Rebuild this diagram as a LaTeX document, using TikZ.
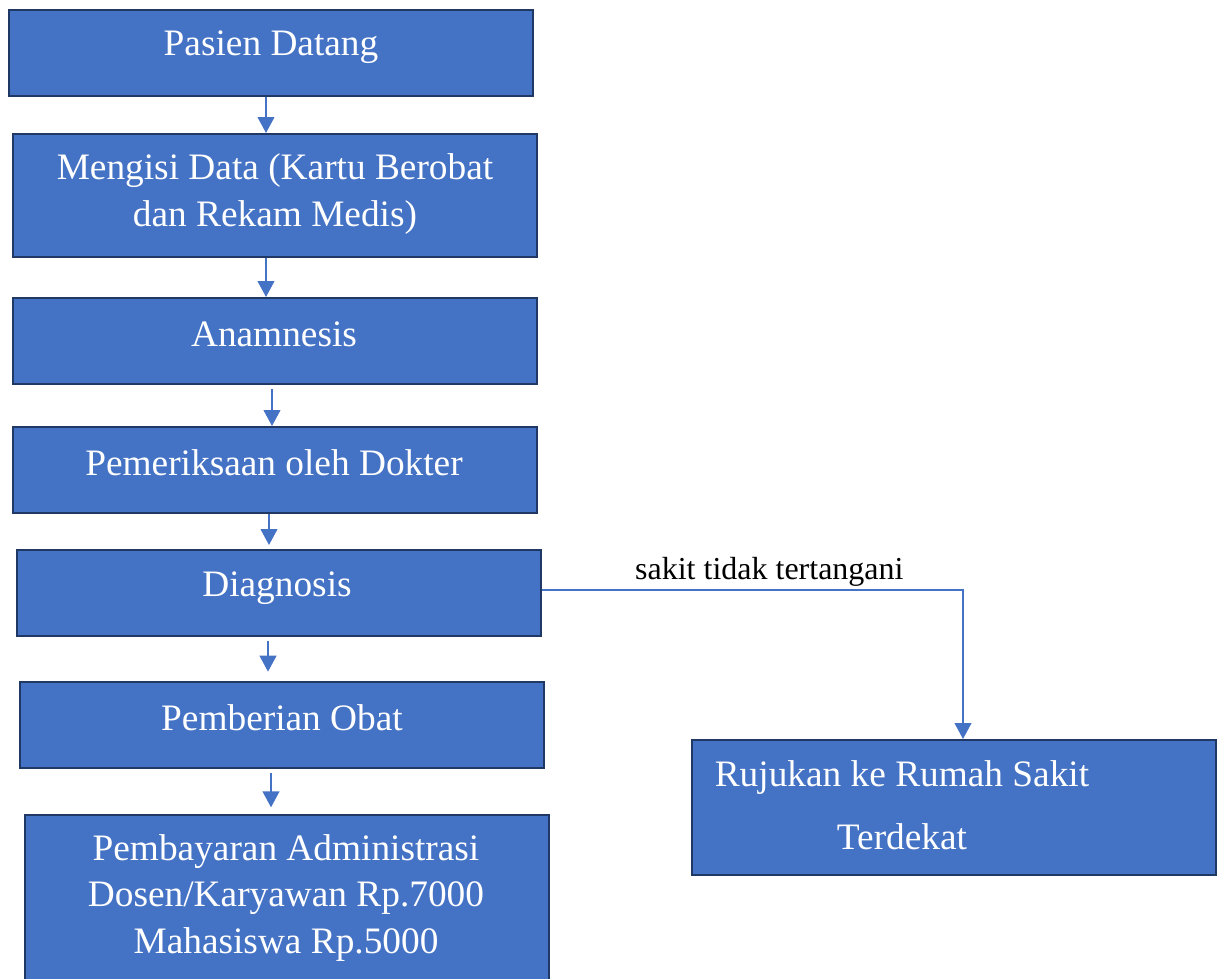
\documentclass[tikz,border=0pt]{standalone}
\usepackage{fontspec}
\setmainfont{Liberation Serif}
\usepackage{tikz}
\usetikzlibrary{arrows.meta, positioning, calc}
\definecolor{boxfill}{HTML}{4472C4}
\definecolor{boxedge}{HTML}{1F3864}
\tikzstyle{process} = [rectangle, minimum width=393pt, minimum height=64.5pt, draw=boxedge, line width=1.5pt, fill=boxfill, inner sep=0pt]
\tikzstyle{boxtext} = [text=white, align=center, font=\fontsize{28}{35}\selectfont, inner sep=0pt]
\tikzstyle{lbl} = [text=black, font=\fontsize{24}{29}\selectfont, inner sep=0pt]
\tikzstyle{arrow} = [draw=boxfill, line width=1.6pt, -{Triangle[width=12.5pt,length=12pt]}]

\begin{document}
\begin{tikzpicture}[x=0.75pt, y=-0.75pt]
                \useasboundingbox (0,0) rectangle (1223,978);
                % boxes
                \node (pasien) [process] at (271,53) {};
                \node (isidata) [process, minimum height=92.25pt] at (275,195.5) {};
                \node (anamnesis) [process] at (275,341) {};
                \node (periksa) [process] at (275,470) {};
                \node (diagnosis) [process] at (279,593) {};
                \node (obat) [process] at (282,725) {};
                \node (bayar) [process, minimum height=127.5pt] at (287,900) {};
                \node (rujukan) [process, minimum height=101.25pt] at (954,807.5) {};

                % texts
                \node (tpasien) [boxtext] at (271,47) {Pasien Datang};
                \node (tisidata) [boxtext] at (275,194) {Mengisi Data (Kartu Berobat\\dan Rekam Medis)};
                \node (tanamnesis) [boxtext] at (274,334) {Anamnesis};
                \node (tperiksa) [boxtext] at (274,463) {Pemeriksaan oleh Dokter};
                \node (tdiagnosis) [boxtext] at (277,588) {Diagnosis};
                \node (tobat) [boxtext] at (282,718) {Pemberian Obat};
                \node (tbayar) [boxtext] at (286,898) {Pembayaran Administrasi\\Dosen/Karyawan Rp.7000\\Mahasiswa Rp.5000};
                \node (trujukan) [boxtext] at (902,805) {Rujukan ke Rumah Sakit\\[12pt]Terdekat};

                \draw [arrow] ([xshift=-3.75pt]pasien.south) -- ([xshift=-3.75pt]pasien.south |- isidata.north);
                \draw [arrow] ([xshift=-6.75pt]isidata.south) -- ([xshift=-6.75pt]isidata.south |- anamnesis.north);
                \draw [arrow, shorten <=3pt] ([xshift=-2.25pt]anamnesis.south) -- ([xshift=-2.25pt]anamnesis.south |- periksa.north);
                \draw [arrow, shorten >=3pt] ([xshift=-4.5pt]periksa.south) -- ([xshift=-4.5pt]periksa.south |- diagnosis.north);
                \draw [arrow, shorten <=3pt, shorten >=7pt] ([xshift=-8.25pt]diagnosis.south) -- ([xshift=-8.25pt]diagnosis.south |- obat.north);
                \draw [arrow, shorten <=3pt, shorten >=5pt] ([xshift=-8.25pt]obat.south) -- ([xshift=-8.25pt]obat.south |- bayar.north);

                \draw [arrow] ([yshift=2.25pt]diagnosis.east) -| 
                    node [lbl, above=2pt, pos=0.27] (sakit) {sakit tidak tertangani}
                    ([xshift=6.75pt]rujukan.north);

\end{tikzpicture}
\end{document}
